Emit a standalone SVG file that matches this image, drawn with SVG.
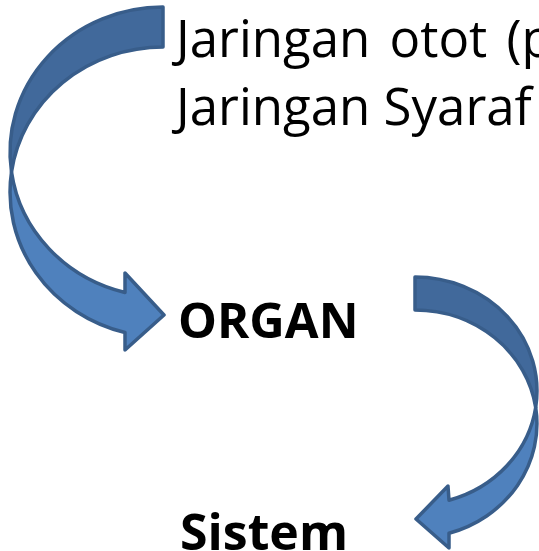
<svg xmlns="http://www.w3.org/2000/svg" width="539" height="551" viewBox="0 0 539 551">
  <style>
    .back { fill: #41699b; stroke: #385d8a; stroke-width: 3.5; stroke-linejoin: round; }
    .front { fill: #4f81bd; stroke: #385d8a; stroke-width: 3.5; stroke-linejoin: round; }
    .reg { font-family: "Open Sans", "Liberation Sans", Arial, sans-serif; font-size: 51px; fill: #000; }
    .bold { font-family: "Open Sans", "Liberation Sans", Arial, sans-serif; font-weight: bold; fill: #000; }
  </style>
  <rect width="539" height="551" fill="#ffffff"/>
  <g id="connectors">
    <g id="arrow-tissue-organ">
      <path class="back" d="M163,7 A153,145 0 0,0 11.5,172 A153,145 0 0,1 163,47 Z"/>
      <path class="front" d="M11.5,172 A153,145 0 0,0 125,332.5 L125,350 L164,315 L125,273 L125,292.5 A153,145 0 0,1 11.5,172 Z"/>
    </g>
    <g id="arrow-organ-sistem">
      <path class="back" d="M415,277 A122,114 0 0,1 535.7,407.5 A122,114 0 0,0 415,310 Z"/>
      <path class="front" d="M535.7,407.5 A122,114 0 0,1 449,533.2 L449,548 L416,519 L448,486 L449,500.2 A122,114 0 0,0 535.7,407.5 Z"/>
    </g>
  </g>
  <g id="tissue">
    <text class="reg" x="176" y="57" word-spacing="6">Jaringan otot (p</text>
    <text class="reg" x="176" y="125">Jaringan Syaraf</text>
  </g>
  <g id="organ">
    <text class="bold" x="178" y="338" font-size="49">ORGAN</text>
  </g>
  <g id="sistem">
    <text class="bold" x="180" y="550" font-size="50">Sistem</text>
  </g>
</svg>
